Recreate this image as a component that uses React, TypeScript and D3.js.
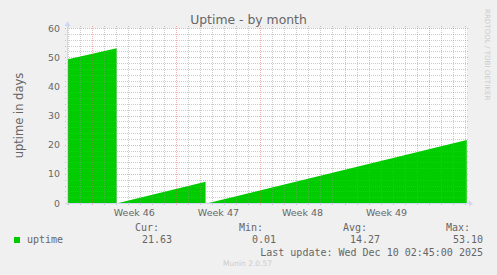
import React from "react";
import * as d3 from "d3";

const W = 497;
const H = 275;

const uptimeTimes = [
  "2025-11-06T21:24:00Z",
  "2025-11-11T00:40:00Z",
  "2025-11-11T02:20:00Z",
  "2025-11-11T03:55:00Z",
  "2025-11-18T10:20:00Z",
  "2025-11-18T13:30:00Z",
  "2025-11-18T16:10:00Z",
  "2025-12-10T04:20:00Z",
];
const uptimeValues = [49.2, 53.1, NaN, 0.01, 7.3, NaN, 0.01, 21.63];

const yTicks = [0, 10, 20, 30, 40, 50, 60];
const weekLines = ["2025-11-09", "2025-11-16", "2025-11-23", "2025-11-30", "2025-12-07"];
const weekLabelTimes = ["2025-11-12T12:00:00Z", "2025-11-19T12:00:00Z", "2025-11-26T12:00:00Z", "2025-12-03T12:00:00Z"];
const weekLabels = ["Week 46", "Week 47", "Week 48", "Week 49"];
const legendHeaders = ["Cur:", "Min:", "Avg:", "Max:"];
const legendValues = ["21.63", "0.01", "14.27", "53.10"];
const lastUpdate = "Last update: Wed Dec 10 02:45:00 2025";

const X0 = 67, X1 = 467, Y0 = 203, Y1 = 28;

export default function App() {
  const x = d3.scaleUtc()
    .domain([new Date("2025-11-06T21:24:00Z"), new Date("2025-12-10T04:48:00Z")])
    .range([X0, X1]);
  const y = d3.scaleLinear().domain([0, 60]).range([Y0, Y1]);

  const data = uptimeTimes.map((t, i) => ({ t: new Date(t), v: uptimeValues[i] }));
  const area = d3.area<{ t: Date; v: number }>()
    .defined(d => !isNaN(d.v))
    .x(d => x(d.t))
    .y0(y(0))
    .y1(d => y(d.v));

  const days = d3.utcDay.range(x.domain()[0], x.domain()[1]);
  const majorDays = new Set(weekLines.map(s => new Date(s + "T00:00:00Z").getTime()));
  const minorDays = days.filter(d => !majorDays.has(d.getTime()));
  const minorY = d3.range(0, 61, 2).filter(v => v % 10 !== 0);

  const font = "'DejaVu Sans', sans-serif";
  const mono = "'DejaVu Sans Mono', monospace";
  const fc = "#666666";
  const minorC = "rgba(143,143,143,0.45)";
  const majorC = "rgba(222,79,79,0.45)";
  const colEnds = [159, 263, 367, 470];

  return (
    <svg width={W} height={H} style={{ position: "absolute", left: 0, top: 0, display: "block" }}>
      <rect x={0} y={0} width={W} height={H} fill="#F0F0F0" />
      <rect x={X0} y={Y1} width={X1 - X0} height={Y0 - Y1} fill="#FFFFFF" />
      <path d={area(data) || ""} fill="#00CC00" />
      {/* minor grid */}
      {minorY.map(v => (
        <line key={"hy" + v} x1={X0 - 2} x2={X1 + 2} y1={Math.round(y(v)) + 0.5} y2={Math.round(y(v)) + 0.5}
          stroke={minorC} strokeDasharray="1,1" />
      ))}
      {minorDays.map(d => (
        <line key={"vx" + d.getTime()} x1={Math.round(x(d)) + 0.5} x2={Math.round(x(d)) + 0.5} y1={Y1 - 2} y2={Y0 + 2}
          stroke={minorC} strokeDasharray="1,1" />
      ))}
      {/* major grid */}
      {yTicks.filter(v => v !== 0).map(v => (
        <line key={"my" + v} x1={X0 - 2} x2={X1 + 2} y1={Math.round(y(v)) + 0.5} y2={Math.round(y(v)) + 0.5}
          stroke={majorC} strokeDasharray="1,1" />
      ))}
      {weekLines.map(s => {
        const px = Math.round(x(new Date(s + "T00:00:00Z"))) + 0.5;
        return <line key={"mx" + s} x1={px} x2={px} y1={Y1 - 2} y2={Y0 + 3} stroke={majorC} strokeDasharray="1,1" />;
      })}
      {/* axes */}
      <line x1={X0 - 2} x2={X1 + 3} y1={Y0 + 0.5} y2={Y0 + 0.5} stroke="#CFD6F8" />
      <line x1={X0 + 0.5} x2={X0 + 0.5} y1={Y0 + 2} y2={Y1 - 3} stroke="#CFD6F8" />
      <path d={`M${X1 + 2},${Y0 - 2.5} L${X1 + 6},${Y0 + 0.5} L${X1 + 2},${Y0 + 3.5} Z`} fill="#CFD6F8" />
      <path d={`M${X0 - 2.5},${Y1 - 2} L${X0 + 0.5},${Y1 - 7} L${X0 + 3.5},${Y1 - 2} Z`} fill="#CFD6F8" />
      {/* y tick labels */}
      {yTicks.map(v => (
        <text key={"yl" + v} x={60} y={y(v) + 3.5} textAnchor="end" fontFamily={font} fontSize={9.4} fill={fc}>{v}</text>
      ))}
      {weekLabelTimes.map((t, i) => (
        <text key={"wl" + i} x={x(new Date(t))} y={216} textAnchor="middle" fontFamily={font} fontSize={9.5} fill={fc}>{weekLabels[i]}</text>
      ))}
      <text x={248.5} y={24} textAnchor="middle" fontFamily={font} fontSize={12.4} fill={fc}>Uptime - by month</text>
      <text transform={`translate(23,115.5) rotate(-90)`} textAnchor="middle" fontFamily={font} fontSize={11.5} fill={fc}>uptime in days</text>
      <text transform={`translate(485,9) rotate(90)`} textAnchor="start" fontFamily={font} fontSize={7.1} fill="#cccccc">RRDTOOL / TOBI OETIKER</text>
      {/* legend */}
      <rect x={14} y={237} width={6} height={6} fill="#00CC00" />
      <text x={27} y={243} fontFamily={mono} fontSize={10} fill={fc}>uptime</text>
      {legendHeaders.map((h, i) => (
        <text key={"lh" + i} x={colEnds[i]} y={231} textAnchor="end" fontFamily={mono} fontSize={10} fill={fc}>{h}</text>
      ))}
      {legendValues.map((v, i) => (
        <text key={"lv" + i} x={colEnds[i] + 13} y={243} textAnchor="end" fontFamily={mono} fontSize={10} fill={fc}>{v}</text>
      ))}
      <text x={483} y={256} textAnchor="end" fontFamily={mono} fontSize={10} fill={fc}>{lastUpdate}</text>
      <text x={223} y={266} fontFamily={font} fontSize={7.5} fill="#cccccc">Munin 2.0.57</text>
    </svg>
  );
}
